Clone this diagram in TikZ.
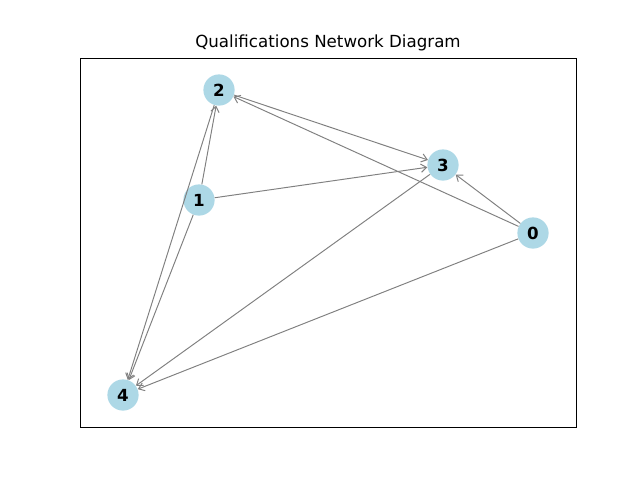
\documentclass[tikz,border=0pt]{standalone}
\usepackage{fontspec}
\setmainfont{DejaVu Sans}
\usetikzlibrary{arrows.meta, positioning}
\definecolor{nodeblue}{RGB}{173,216,230}
\definecolor{edgegray}{RGB}{128,128,128}

\begin{document}
\begin{tikzpicture}[x=0.72pt, y=-0.72pt]

% TikZ styles
\tikzset{
  qual/.style={circle, fill=nodeblue, draw=none, minimum size=22.5pt, inner sep=0pt, font=\fontsize{12}{14}\selectfont\bfseries},
  arrow/.style={-{Straight Barb[length=4pt, width=6pt]}, draw=edgegray, line width=0.7pt},
  frame/.style={draw=black, line width=0.6pt}
};

\useasboundingbox (0,0) rectangle (640,480);

%==========================
% Rahmen und Titel
%==========================
\draw[frame] (80,58) rectangle (576,427);
\node[font=\fontsize{12}{14}\selectfont] (title) at (328,43) {Qualifications Network Diagram};

% --- Knoten ---
\node[qual] (n0) at (533,233) {0};
\node[qual] (n1) at (199,200) {1};
\node[qual] (n2) at (219,90)  {2};
\node[qual] (n3) at (443,165) {3};
\node[qual] (n4) at (123,395) {4};

% --- Pfeile ---
\draw[arrow] (n0) -- (n2);
\draw[arrow] (n0) -- (n3);
\draw[arrow] (n0) -- (n4);
\draw[arrow] (n1) -- (n2);
\draw[arrow] (n1) -- (n3);
\draw[arrow] (n1) -- (n4);
\draw[arrow] (n2) -- (n3);
\draw[arrow] (n2) -- (n4);
\draw[arrow] (n3) -- (n4);
\end{tikzpicture}
\end{document}
